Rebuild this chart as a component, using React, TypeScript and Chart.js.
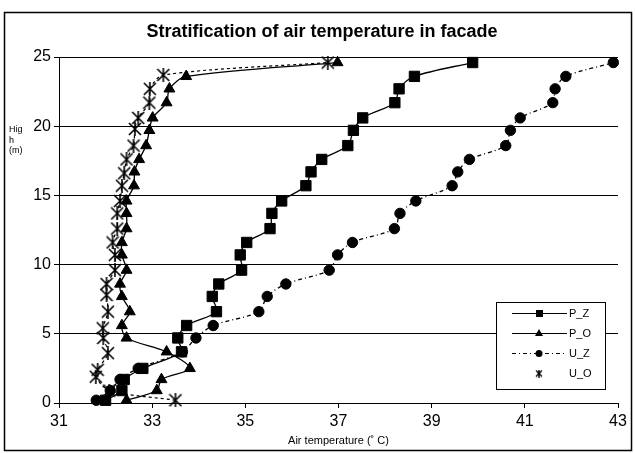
import { useEffect, useRef } from "react";
import { Chart, registerables } from "chart.js";
Chart.register(...registerables);

const chartTitle = "Stratification of air temperature in facade";
const xAxisTitle = "Air temperature (\u02DA C)";
const yAxisTitleLines = ["Hig", "h", "(m)"];
const seriesNames = ["P_Z", "P_O", "U_Z", "U_O"];

const heights = [0.2, 0.9, 1.7, 2.5, 3.7, 4.7, 5.6, 6.6, 7.7, 8.6, 9.6, 10.7, 11.6, 12.6, 13.7, 14.6, 15.7, 16.7, 17.6, 18.6, 19.7, 20.6, 21.7, 22.7, 23.6, 24.6];
const uOHeights = [0.2, 0.9, 1.9, 2.4, 3.6, 4.7, 5.4, 6.6, 7.8, 8.6, 9.6, 10.7, 11.6, 12.6, 13.7, 14.6, 15.7, 16.6, 17.6, 18.6, 19.8, 20.6, 21.7, 22.7, 23.7, 24.6];

const pZ = [32.0, 32.35, 32.4, 32.8, 33.63, 33.55, 33.74, 34.38, 34.29, 34.43, 34.92, 34.89, 35.03, 35.53, 35.57, 35.78, 36.3, 36.41, 36.64, 37.2, 37.32, 37.52, 38.21, 38.3, 38.63, 39.88];
const pO = [32.45, 33.1, 33.2, 33.81, 33.31, 32.45, 32.35, 32.52, 32.35, 32.31, 32.45, 32.35, 32.35, 32.45, 32.45, 32.45, 32.61, 32.62, 32.72, 32.87, 32.94, 33.01, 33.31, 33.37, 33.73, 36.98];
const uZ = [31.8, 32.1, 32.31, 32.7, 33.65, 33.94, 34.31, 35.29, 35.47, 35.87, 36.8, 36.98, 37.3, 38.2, 38.32, 38.66, 39.44, 39.56, 39.81, 40.59, 40.69, 40.9, 41.6, 41.65, 41.88, 42.9];
const uO = [33.5, 32.08, 31.79, 31.83, 32.05, 31.95, 31.94, 32.05, 32.02, 32.02, 32.2, 32.2, 32.15, 32.25, 32.25, 32.31, 32.35, 32.4, 32.45, 32.6, 32.63, 32.7, 32.94, 32.95, 33.24, 36.77];

const xMin = 31, xMax = 43, xStep = 2;
const yMin = 0, yMax = 25, yStep = 5;

const FONT = "'Liberation Sans', Arial, sans-serif";

function makeStar(size: number, lw: number) {
  const c = document.createElement("canvas");
  c.width = size;
  c.height = size;
  const g = c.getContext("2d")!;
  g.strokeStyle = "#000";
  g.lineWidth = lw;
  g.beginPath();
  g.moveTo(1, 1);
  g.lineTo(size - 1, size - 1);
  g.moveTo(size - 1, 1);
  g.lineTo(1, size - 1);
  g.moveTo(size / 2, 0);
  g.lineTo(size / 2, size);
  g.stroke();
  return c;
}

export default function App() {
  const ref = useRef<HTMLCanvasElement>(null);
  useEffect(() => {
    const canvas = ref.current!;
    const star = makeStar(14, 1.6);
    const smallStar = makeStar(8, 1.4);
    const toPts = (xs: number[], hs: number[]) => hs.map((h, i) => ({ x: xs[i], y: h }));

    const decor = {
      id: "decor",
      afterDraw(chart: any) {
        const ctx = chart.ctx as CanvasRenderingContext2D;
        const area = chart.chartArea;
        ctx.save();
        ctx.strokeStyle = "#000";
        ctx.lineWidth = 1.5;
        ctx.strokeRect(4.5, 12.5, 627, 438);
        ctx.fillStyle = "#000";
        ctx.font = `bold 18px ${FONT}`;
        ctx.textAlign = "center";
        ctx.textBaseline = "middle";
        ctx.fillText(chartTitle, 322, 32);
        ctx.font = `11px ${FONT}`;
        ctx.fillText(xAxisTitle, (area.left + area.right) / 2, 441);
        ctx.font = `9px ${FONT}`;
        ctx.textAlign = "left";
        yAxisTitleLines.forEach((t, i) => ctx.fillText(t, 9, 130 + i * 10.5));
        const lx = 496, ly = 302, lw = 109, lh = 87;
        ctx.fillStyle = "#fff";
        ctx.fillRect(lx, ly, lw, lh);
        ctx.lineWidth = 1;
        ctx.strokeStyle = "#000";
        ctx.strokeRect(lx + 0.5, ly + 0.5, lw, lh);
        const rows = [313, 333, 353, 373];
        ctx.font = `11px ${FONT}`;
        chart.data.datasets.forEach((ds: any, i: number) => {
          const y = rows[i];
          ctx.save();
          ctx.strokeStyle = "#000";
          ctx.lineWidth = 1;
          if (i !== 3) {
            ctx.setLineDash(ds.borderDash || []);
            ctx.beginPath();
            ctx.moveTo(512, y + 0.5);
            ctx.lineTo(567, y + 0.5);
            ctx.stroke();
          }
          ctx.restore();
          ctx.fillStyle = "#000";
          const mx = 539;
          if (i === 0) ctx.fillRect(mx - 3, y - 3, 7, 7);
          else if (i === 1) {
            ctx.beginPath();
            ctx.moveTo(mx, y - 4);
            ctx.lineTo(mx + 4, y + 3);
            ctx.lineTo(mx - 4, y + 3);
            ctx.closePath();
            ctx.fill();
          } else if (i === 2) {
            ctx.beginPath();
            ctx.arc(mx, y + 0.5, 3.5, 0, Math.PI * 2);
            ctx.fill();
          } else {
            ctx.drawImage(smallStar, mx - 4, y - 3.5);
          }
          ctx.fillStyle = "#000";
          ctx.textAlign = "left";
          ctx.textBaseline = "middle";
          ctx.fillText(seriesNames[i], 569, y + 0.5);
        });
        ctx.restore();
      },
    };

    const chart = new Chart(canvas, {
      type: "line",
      data: {
        datasets: [
          {
            label: seriesNames[0],
            data: toPts(pZ, heights),
            borderColor: "#000",
            backgroundColor: "#000",
            borderWidth: 1.3,
            pointStyle: "rect",
            pointRadius: 7.3,
            pointBorderWidth: 1,
            tension: 0.3,
          },
          {
            label: seriesNames[1],
            data: toPts(pO, heights),
            borderColor: "#000",
            backgroundColor: "#000",
            borderWidth: 1.3,
            pointStyle: "triangle",
            pointRadius: 6.3,
            pointBorderWidth: 1,
            tension: 0.3,
          },
          {
            label: seriesNames[2],
            data: toPts(uZ, heights),
            borderColor: "#000",
            backgroundColor: "#000",
            borderWidth: 1.3,
            borderDash: [4, 3, 1, 3],
            pointStyle: "circle",
            pointRadius: 5.2,
            pointBorderWidth: 1,
            tension: 0.3,
          },
          {
            label: seriesNames[3],
            data: toPts(uO, uOHeights),
            borderColor: "#000",
            backgroundColor: "#000",
            borderWidth: 1.2,
            borderDash: [3, 3],
            pointStyle: star as any,
            pointRadius: 7,
            tension: 0.3,
          },
        ] as any,
      },
      options: {
        animation: false,
        responsive: false,
        maintainAspectRatio: false,
        clip: false as any,
        layout: { autoPadding: false, padding: { top: 57, right: 17, bottom: 0, left: 0 } } as any,
        plugins: { legend: { display: false }, title: { display: false }, tooltip: { enabled: false } },
        scales: {
          x: {
            type: "linear",
            min: xMin,
            max: xMax,
            afterFit: (s: any) => { s.height = 50; },
            ticks: { stepSize: xStep, color: "#000", font: { family: FONT, size: 16 }, padding: 4, maxRotation: 0 },
            grid: { drawOnChartArea: false, drawTicks: true, tickLength: 5, color: "#000", lineWidth: 1 },
            border: { display: true, color: "#000", width: 1 },
          },
          y: {
            type: "linear",
            min: yMin,
            max: yMax,
            afterFit: (s: any) => { s.width = 59; },
            ticks: { stepSize: yStep, color: "#000", font: { family: FONT, size: 16 }, padding: 3 },
            grid: { drawTicks: true, tickLength: 5, color: "#000", lineWidth: 1 },
            border: { display: true, color: "#000", width: 1 },
          },
        },
      } as any,
      plugins: [decor],
    });
    return () => chart.destroy();
  }, []);
  return (
    <div style={{ position: "fixed", left: 0, top: 0, width: 635, height: 453, background: "#fff" }}>
      <canvas ref={ref} width={635} height={453} style={{ width: 635, height: 453, display: "block" }} />
    </div>
  );
}
